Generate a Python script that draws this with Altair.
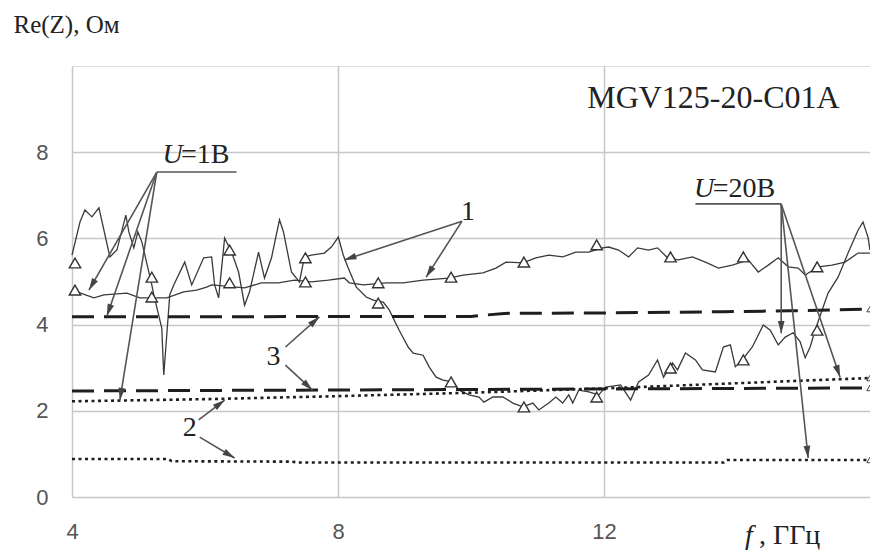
import math
import altair as alt
import pandas as pd

# ---------------- data ----------------
# line 1, U=20B (strongly varying curve)
x_u20 = [4.0, 4.12, 4.195, 4.30, 4.405, 4.57, 4.675, 4.81, 4.855, 4.93, 4.99, 5.05, 5.2, 5.23,
         5.35, 5.38, 5.425, 5.47, 5.53, 5.695, 5.8, 5.98, 6.1, 6.145, 6.205, 6.295, 6.4, 6.505,
         6.595, 6.67, 6.805, 6.895, 7.0, 7.12, 7.18, 7.3, 7.42, 7.495, 7.6, 7.795, 7.9, 8.005,
         8.08, 8.155, 8.275, 8.425, 8.53, 8.68, 8.77, 8.92, 9.055, 9.13, 9.28, 9.37, 9.475,
         9.58, 9.73, 9.82, 9.97, 10.12, 10.195, 10.33, 10.48, 10.63, 10.78, 10.93, 11.02,
         11.17, 11.275, 11.38, 11.47, 11.53, 11.62, 11.77, 11.92, 12.025, 12.25, 12.4, 12.52,
         12.67, 12.805, 12.895, 13.03, 13.105, 13.225, 13.375, 13.48, 13.675, 13.795, 13.9,
         13.975, 14.08, 14.23, 14.395, 14.5, 14.62, 14.725, 14.845, 14.95, 15.025, 15.1,
         15.175, 15.28, 15.37, 15.52, 15.67, 15.82, 15.895, 15.97, 16.0]
y_u20 = [5.61, 6.38, 6.66, 6.50, 6.71, 5.57, 5.73, 6.54, 6.15, 5.78, 6.15, 5.92, 4.92, 4.69,
         3.92, 2.83, 3.76, 4.69, 4.92, 5.45, 4.92, 5.55, 5.57, 4.92, 4.62, 6.01, 5.68, 5.22,
         4.45, 4.76, 5.68, 5.08, 5.55, 6.43, 6.15, 5.22, 4.99, 5.57, 5.61, 5.66, 5.80, 6.03,
         5.61, 5.31, 4.87, 4.64, 4.57, 4.52, 4.34, 3.87, 3.48, 3.34, 3.29, 3.02, 2.78,
         2.71, 2.67, 2.48, 2.37, 2.32, 2.20, 2.32, 2.32, 2.18, 2.09, 2.18, 2.02,
         2.18, 2.32, 2.18, 2.37, 2.18, 2.48, 2.44, 2.37, 2.55, 2.60, 2.25, 2.67,
         2.83, 3.18, 2.78, 3.11, 2.95, 3.34, 3.18, 2.95, 2.90, 3.48, 3.53,
         3.02, 3.18, 3.48, 3.99, 3.87, 3.53, 3.71, 3.81, 3.60, 3.23, 3.48,
         3.87, 4.34, 4.73, 5.10, 5.66, 6.19, 6.38, 6.03, 5.73]

# line 1, U=1B (flat curve)
x_u1 = [4.0, 4.33, 4.48, 4.825, 5.02, 5.425, 5.68, 5.875, 6.025, 6.1, 6.595, 6.85, 7.105,
        7.345, 7.6, 7.855, 8.095, 8.17, 8.38, 8.725, 8.98, 9.28, 9.67, 9.88, 10.18, 10.375,
        10.525, 10.78, 10.975, 11.17, 11.38, 11.575, 11.77, 11.98, 12.07, 12.22, 12.37,
        12.505, 12.67, 12.805, 12.955, 13.12, 13.33, 13.525, 13.72, 13.93, 14.17, 14.32,
        14.47, 14.62, 14.77, 14.92, 15.025, 15.22, 15.43, 15.625, 15.82, 16.0]
y_u1 = [4.80, 4.62, 4.69, 4.73, 4.62, 4.62, 4.76, 4.80, 4.87, 4.92, 4.85, 4.97, 4.97,
        5.03, 4.99, 5.03, 5.08, 4.97, 4.92, 4.97, 4.97, 5.03, 5.08, 5.15, 5.20, 5.31,
        5.45, 5.43, 5.55, 5.61, 5.57, 5.68, 5.68, 5.78, 5.80, 5.73, 5.57,
        5.78, 5.73, 5.78, 5.55, 5.50, 5.57, 5.45, 5.31, 5.38, 5.50, 5.22,
        5.38, 5.55, 5.34, 5.31, 5.15, 5.34, 5.38, 5.45, 5.66, 5.66]

# triangle markers
x_mark = [4.045, 5.2, 6.37, 7.51, 8.605, 9.7, 10.795, 11.89, 13.0, 14.095, 15.205]
y_mark_u1 = [4.80, 4.64, 4.97, 4.99, 4.97, 5.10, 5.45, 5.85, 5.57, 5.57, 5.34]
y_mark_u20 = [5.43, 5.10, 5.73, 5.55, 4.50, 2.67, 2.09, 2.32, 2.99, 3.18, 3.87]

# curves 3 (dashed)
x_d3_u1 = [4.0, 10.0, 10.5, 12.0, 13.8, 14.8, 16.0]
y_d3_u1 = [4.18, 4.19, 4.26, 4.27, 4.30, 4.32, 4.36]
x_d3_u20 = [4.0, 16.0]
y_d3_u20 = [2.46, 2.53]

# curves 2 (dotted)
x_d2_a = [4.0, 6.0, 8.0, 10.0, 12.0, 14.0, 16.0]
y_d2_a = [2.22, 2.27, 2.34, 2.42, 2.52, 2.64, 2.76]
x_d2_b = [4.0, 5.45, 5.5, 7.3, 7.4, 13.8, 13.85, 16.0]
y_d2_b = [0.88, 0.88, 0.83, 0.82, 0.80, 0.80, 0.86, 0.86]

# end markers on the right border
x_end = [16.0, 16.0, 16.0, 16.0]
y_end = [4.36, 2.76, 2.53, 0.86]

x_ticks = [4, 8, 12]
y_ticks = [0, 2, 4, 6, 8]

# annotation arrows: start (x1,y1) -> tip (x2,y2)
arr_x1 = [5.275, 5.275, 5.275, 14.665, 14.665, 14.665, 9.865, 9.865, 7.21, 7.21, 5.905, 5.92]
arr_y1 = [7.54, 7.54, 7.54, 6.80, 6.80, 6.80, 6.40, 6.40, 3.48, 3.06, 1.79, 1.39]
arr_x2 = [4.255, 4.525, 4.72, 14.665, 15.07, 15.55, 8.095, 9.325, 7.72, 7.615, 6.295, 6.445]
arr_y2 = [4.80, 4.20, 2.25, 3.80, 0.905, 2.78, 5.50, 5.10, 4.18, 2.48, 2.25, 0.905]

# leader bars above fans
bar_x1 = [5.275, 13.375]
bar_x2 = [6.475, 14.665]
bar_y = [7.54, 6.80]

# texts (regular serif)
txt = ["=1B", "=20B", "1", "2", "3", "MGV125-20-C01A", "Re(Z), Ом", ", ГГц"]
txt_x = [5.64, 13.635, 9.955, 5.77, 7.03, 13.645, 3.12, 14.33]
txt_y = [7.75, 6.96, 6.61, 1.60, 3.25, 9.03, 10.77, -1.08]
txt_align = ["left", "left", "center", "center", "center", "center", "left", "left"]
txt_base = ["alphabetic", "alphabetic", "middle", "middle", "middle", "alphabetic",
            "alphabetic", "alphabetic"]
txt_size = [28, 28, 28, 28, 28, 32, 25, 28]
# italic letters
ital = ["U", "U", "f"]
ital_x = [5.36, 13.355, 14.12]
ital_y = [7.75, 6.96, -1.08]
ital_size = [28, 28, 28]

# ---------------- build ----------------
W, H = 798, 431
XD, YD = [4, 16], [0, 10]
pxx = W / (XD[1] - XD[0])
pxy = H / (YD[1] - YD[0])

xs = alt.Scale(domain=XD, nice=False, zero=False)
ys = alt.Scale(domain=YD, nice=False)

def line_df(series):
    rows = []
    for name, xx, yy in series:
        for a, b in zip(xx, yy):
            rows.append({"s": name, "x": a, "y": b})
    return pd.DataFrame(rows)

solid = line_df([("u20", x_u20, y_u20), ("u1", x_u1, y_u1)])
dashed = line_df([("a", x_d3_u1, y_d3_u1), ("b", x_d3_u20, y_d3_u20)])
dotted = line_df([("a", x_d2_a, y_d2_a), ("b", x_d2_b, y_d2_b)])
marks = pd.DataFrame({"x": x_mark * 2, "y": y_mark_u1 + y_mark_u20})
ends = pd.DataFrame({"x": x_end, "y": y_end})

X = alt.X("x:Q", scale=xs, axis=alt.Axis(values=x_ticks, format="d", title=None, grid=True,
          ticks=False, domain=False, labelFont="Liberation Sans", labelFontSize=22,
          labelColor="#555", labelPadding=24, gridColor="#c8c8c8", gridWidth=1.5,
          labelFlush=False))
Y = alt.Y("y:Q", scale=ys, axis=alt.Axis(values=y_ticks, format="d", title=None, grid=True,
          ticks=False, domain=False, labelFont="Liberation Sans", labelFontSize=22,
          labelColor="#555", labelPadding=24, gridColor="#c8c8c8", gridWidth=1.5))

base_solid = alt.Chart(solid).mark_line(color="#3a3a3a", strokeWidth=1.3).encode(
    x=X, y=Y, detail="s:N", order="x:Q")
l_dash = alt.Chart(dashed).mark_line(color="#1e1e1e", strokeWidth=3, strokeDash=[22, 10]).encode(
    x=alt.X("x:Q", scale=xs), y=alt.Y("y:Q", scale=ys), detail="s:N")
l_dot = alt.Chart(dotted).mark_line(color="#1e1e1e", strokeWidth=2.6, strokeDash=[3, 3.5]).encode(
    x=alt.X("x:Q", scale=xs), y=alt.Y("y:Q", scale=ys), detail="s:N")
l_marks = alt.Chart(marks).mark_point(shape="triangle-up", filled=True, fill="white",
                                      stroke="#333", strokeWidth=1.4, size=130, opacity=1).encode(
    x=alt.X("x:Q", scale=xs), y=alt.Y("y:Q", scale=ys))
l_ends = alt.Chart(ends).mark_point(shape="triangle-up", filled=True, fill="white",
                                    stroke="#444", strokeWidth=1, size=40, opacity=1).encode(
    x=alt.X("x:Q", scale=xs), y=alt.Y("y:Q", scale=ys))

# arrows
arr = pd.DataFrame({"x1": arr_x1, "y1": arr_y1, "x2": arr_x2, "y2": arr_y2})
heads = []
for a, b, c, d in zip(arr_x1, arr_y1, arr_x2, arr_y2):
    dxp = (c - a) * pxx
    dyp = -(d - b) * pxy
    L = math.hypot(dxp, dyp)
    ux, uy = dxp / L, dyp / L
    ang = math.degrees(math.atan2(dxp, -dyp)) % 360
    hx = c - 6 * ux / pxx
    hy = d + 6 * uy / pxy
    heads.append({"x": hx, "y": hy, "a": ang})
heads = pd.DataFrame(heads)
l_arr = alt.Chart(arr).mark_rule(color="#555", strokeWidth=1.6).encode(
    x=alt.X("x1:Q", scale=xs), y=alt.Y("y1:Q", scale=ys), x2="x2:Q", y2="y2:Q")
l_heads = alt.Chart(heads).mark_point(shape="M0,-1L0.55,1L-0.55,1Z", filled=True, color="#444",
                                      size=150, opacity=1).encode(
    x=alt.X("x:Q", scale=xs), y=alt.Y("y:Q", scale=ys), angle=alt.Angle("a:Q", scale=None))
bars = pd.DataFrame({"x1": bar_x1, "x2": bar_x2, "y": bar_y})
l_bars = alt.Chart(bars).mark_rule(color="#555", strokeWidth=1.6).encode(
    x=alt.X("x1:Q", scale=xs), x2="x2:Q", y=alt.Y("y:Q", scale=ys))

# texts
layers_txt = []
for t, x, y, al, bl, sz in zip(txt, txt_x, txt_y, txt_align, txt_base, txt_size):
    d = pd.DataFrame({"x": [x], "y": [y], "t": [t]})
    layers_txt.append(alt.Chart(d).mark_text(font="Liberation Serif", fontSize=sz, color="#222",
                                             align=al, baseline=bl).encode(
        x=alt.X("x:Q", scale=xs), y=alt.Y("y:Q", scale=ys), text="t:N"))
for t, x, y, sz in zip(ital, ital_x, ital_y, ital_size):
    d = pd.DataFrame({"x": [x], "y": [y], "t": [t]})
    layers_txt.append(alt.Chart(d).mark_text(font="Liberation Serif", fontSize=sz, color="#222",
                                             fontStyle="italic", align="left",
                                             baseline="alphabetic").encode(
        x=alt.X("x:Q", scale=xs), y=alt.Y("y:Q", scale=ys), text="t:N"))

chart = alt.layer(base_solid, l_dash, l_dot, l_marks, l_ends, l_arr, l_heads, l_bars,
                  *layers_txt).properties(
    width=W, height=H,
    autosize=alt.AutoSizeParams(type="none"),
    padding={"left": 64, "top": 58, "right": 0, "bottom": 55},
).configure_view(stroke="#555", strokeWidth=1.6).configure(background="white")

chart.save("out.html", embed_options={"renderer": "svg", "actions": False})
